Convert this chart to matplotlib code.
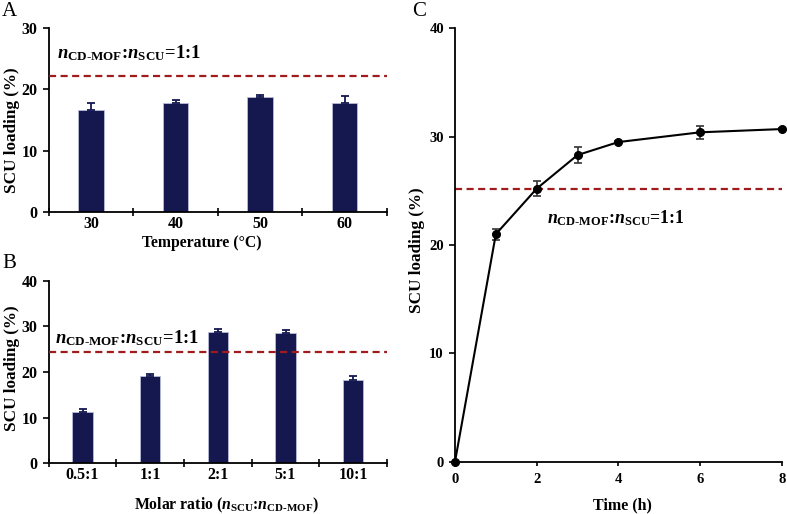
import matplotlib
matplotlib.use("Agg")
import matplotlib.pyplot as plt
import numpy as np

plt.rcParams['font.family'] = ['Liberation Serif', 'DejaVu Serif']
plt.rcParams['font.weight'] = 'bold'
plt.rcParams['mathtext.fontset'] = 'custom'
plt.rcParams['mathtext.rm'] = 'Liberation Serif:bold'
plt.rcParams['mathtext.it'] = 'Liberation Serif:italic:bold'
plt.rcParams['mathtext.bf'] = 'Liberation Serif:bold'

# Panel A data
temp_labels = ["30", "40", "50", "60"]
temp_values = [16.7, 17.7, 18.8, 17.8]
temp_err = [1.1, 0.6, 0.2, 1.1]
temp_ref = 22.1

# Panel B data
ratio_labels = ["0.5:1", "1:1", "2:1", "5:1", "10:1"]
ratio_values = [11.3, 19.1, 28.7, 28.5, 18.2]
ratio_err = [0.6, 0.5, 0.8, 0.7, 1.0]
ratio_ref = 24.4

# Panel C data
time_h = [0, 1, 2, 3, 4, 6, 8]
time_values = [0.0, 21.0, 25.2, 28.3, 29.5, 30.4, 30.7]
time_err = [0.0, 0.5, 0.7, 0.7, 0.1, 0.6, 0.1]
time_ref = 25.2

BAR = '#15184f'
EDGE = '#b8bcd8'
RED = '#a01c1c'
ANN = r'$\mathit{n}_{\mathrm{CD\text{-}MOF}}$:$\mathit{n}_{\mathrm{SCU}}$=1:1'
DASH = (0, (3.2, 2.0))

W, H = 787, 514
fig = plt.figure(figsize=(W / 100, H / 100), dpi=100)


def frac(l, r, t, b):
    return [l / W, 1 - b / H, (r - l) / W, (b - t) / H]


def style(ax, ylab_x, ylab_y, ysize):
    for s in ['top', 'right']:
        ax.spines[s].set_visible(False)
    for s in ['left', 'bottom']:
        ax.spines[s].set_linewidth(1.3)
    ax.tick_params(axis='y', direction='out', length=4, width=1.2, labelsize=ysize, pad=4)
    for lab in ax.get_yticklabels():
        lab.set_fontweight('bold')
    ax.set_ylabel('SCU loading (%)', fontsize=12.3, fontweight='bold')
    ax.yaxis.set_label_coords(ylab_x, ylab_y)


def bar_panel(ax, labels, values, err, ref, ymax, xlabel, xlab_x, xlab_y, ylab_y):
    x = np.arange(len(labels))
    ax.bar(x, values, width=0.3, color=BAR, edgecolor=EDGE, linewidth=0.6, zorder=2)
    ax.errorbar(x, values, yerr=[np.zeros(len(err)), err], fmt='none', ecolor=BAR,
                elinewidth=1.3, capsize=2.8, capthick=1.3, zorder=3)
    ax.axhline(ref, color=RED, linestyle=DASH, linewidth=1.6, zorder=4)
    ax.set_xlim(-0.5, len(labels) - 0.5)
    ax.set_ylim(0, ymax)
    ax.set_yticks(np.arange(0, ymax + 1, 10))
    ax.set_xticks(x)
    ax.set_xticklabels(labels, fontsize=11.5, fontweight='bold')
    ax.set_xticks(np.arange(len(labels) + 1) - 0.5, minor=True)
    ax.tick_params(axis='x', which='major', length=0, pad=3)
    ax.tick_params(axis='x', which='minor', direction='inout', length=6, width=1.2)
    ax.set_xlabel(xlabel, fontsize=11.3, fontweight='bold')
    ax.xaxis.set_label_coords(xlab_x, xlab_y)
    style(ax, -0.085, ylab_y, 11.5)


axA = fig.add_axes(frac(48.7, 387, 28, 212))
bar_panel(axA, temp_labels, temp_values, temp_err, temp_ref, 30, 'Temperature (°C)',
          0.453, -(235 - 212) / 184, 0.446)
axA.text(57 / W, 1 - 53 / H, ANN, transform=fig.transFigure, fontsize=13.4,
         fontweight='bold', va='center', ha='left')

axB = fig.add_axes(frac(48.7, 387, 280.7, 463.3))
bar_panel(axB, ratio_labels, ratio_values, ratio_err, ratio_ref, 40,
          r'Molar ratio ($\mathit{n}_{\mathrm{SCU}}$:$\mathit{n}_{\mathrm{CD\text{-}MOF}}$)',
          0.525, -(496 - 463.3) / 182.6, 0.522)
axB.text(55 / W, 1 - 338 / H, ANN, transform=fig.transFigure, fontsize=13.4,
         fontweight='bold', va='center', ha='left')

axC = fig.add_axes(frac(455, 781.7, 28.3, 461.7))
axC.errorbar(time_h, time_values, yerr=time_err, color='black', linewidth=1.5,
             marker='o', markersize=5.5, ecolor='#333333', elinewidth=1.2,
             capsize=2.8, capthick=1.2, zorder=3, clip_on=False)
axC.axhline(time_ref, color=RED, linestyle=DASH, linewidth=1.6, zorder=2)
axC.set_xlim(0, 8)
axC.set_ylim(0, 40)
axC.set_xticks([0, 2, 4, 6, 8])
axC.set_yticks([0, 10, 20, 30, 40])
axC.tick_params(axis='x', direction='out', length=3, width=1.2, labelsize=10.5, pad=5)
for lab in axC.get_xticklabels():
    lab.set_fontweight('bold')
axC.set_xlabel('Time (h)', fontsize=11.5, fontweight='bold')
axC.xaxis.set_label_coords(0.514, -(497 - 461.7) / 433.4)
style(axC, -0.092, 0.488, 10.5)
axC.text(547 / W, 1 - 218 / H, ANN, transform=fig.transFigure, fontsize=12.8,
         fontweight='bold', va='center', ha='left')

fig.text(2 / W, 1 - 12 / H, 'A', fontsize=15, fontweight='normal', va='center', ha='left')
fig.text(2 / W, 1 - 263 / H, 'B', fontsize=15, fontweight='normal', va='center', ha='left')
fig.text(412 / W, 1 - 12 / H, 'C', fontsize=15, fontweight='normal', va='center', ha='left')

fig.savefig('out.png', dpi=100)
